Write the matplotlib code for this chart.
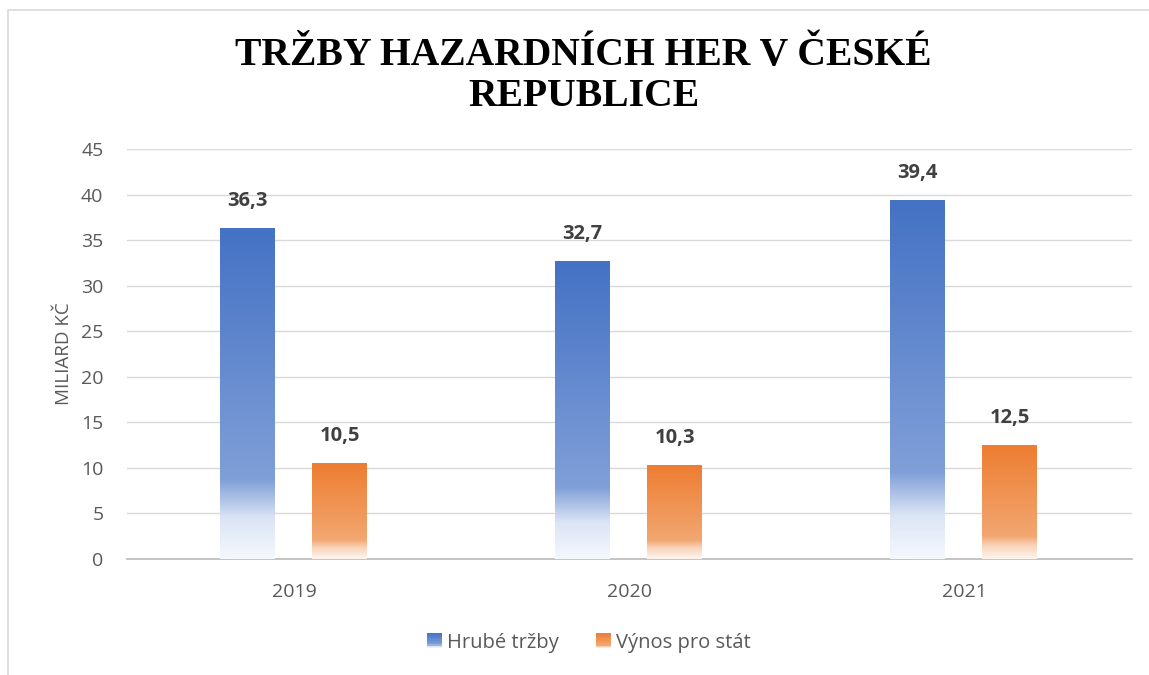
import numpy as np
import matplotlib
matplotlib.use("Agg")
import matplotlib.pyplot as plt
from matplotlib.colors import LinearSegmentedColormap
from matplotlib.patches import Rectangle
from matplotlib.legend_handler import HandlerBase

# data
years = ["2019", "2020", "2021"]
hrube_trzby = [36.3, 32.7, 39.4]
vynos_pro_stat = [10.5, 10.3, 12.5]
series_names = ["Hrubé tržby", "Výnos pro stát"]
yticks = [0, 5, 10, 15, 20, 25, 30, 35, 40, 45]

# gradient maps, bottom (0) -> top (1)
cmap_blue = LinearSegmentedColormap.from_list(
    "blue", [(0.0, "#F5F8FD"), (0.12, "#DCE5F5"), (0.24, "#809FD8"), (1.0, "#4472C4")])
cmap_orange = LinearSegmentedColormap.from_list(
    "orange", [(0.0, "#FEF6F0"), (0.12, "#F8D2B6"), (0.2, "#F2A771"), (1.0, "#ED7D31")])

font = "Open Sans"
fig = plt.figure(figsize=(11.49, 6.75), dpi=100)
fig.patches.append(Rectangle((8 / 1149, -0.1), 1.2, 1 - 10 / 675 + 0.1, transform=fig.transFigure,
                             fill=False, edgecolor="#D9D9D9", linewidth=1.2))
ax = fig.add_axes([127 / 1149, 1 - 559 / 675, (1132 - 127) / 1149, (559 - 149) / 675])

x = np.arange(len(years))
w = 0.164
grad = np.linspace(0, 1, 256).reshape(-1, 1)

def grad_bars(xpos, vals, cmap):
    bars = ax.bar(xpos, vals, w, color="none", edgecolor="none", zorder=3)
    for b in bars:
        x0, y0 = b.get_x(), b.get_y()
        im = ax.imshow(grad, cmap=cmap, origin="lower", aspect="auto", zorder=3,
                       extent=(x0, x0 + b.get_width(), y0, y0 + b.get_height()))
        im.set_clip_path(b)
    for xi, v in zip(xpos, vals):
        ax.text(xi, v + 1.9, f"{v:.1f}".replace(".", ","), ha="center", va="bottom",
                fontsize=14.5, fontweight="bold", color="#404040", family=font)
    return bars

grad_bars(x - 0.14, hrube_trzby, cmap_blue)
grad_bars(x + 0.135, vynos_pro_stat, cmap_orange)

ax.set_xlim(-0.5, 2.5)
ax.set_ylim(0, 45)
ax.set_yticks(yticks)
ax.set_xticks(x)
ax.set_xticklabels(years)
ax.grid(axis="y", color="#D9D9D9", linewidth=1, zorder=0)
ax.set_axisbelow(True)
for s in ["top", "right", "left"]:
    ax.spines[s].set_visible(False)
ax.spines["bottom"].set_color("#BFBFBF")
ax.spines["bottom"].set_linewidth(1.3)
ax.tick_params(axis="both", length=0, labelsize=14, labelcolor="#595959")
ax.tick_params(axis="x", pad=17)
ax.tick_params(axis="y", pad=17)
for lab in ax.get_xticklabels() + ax.get_yticklabels():
    lab.set_family(font)
ax.set_ylabel("MILIARD KČ", fontsize=13.5, color="#595959", family=font, labelpad=6)

fig.text(0.508, 1 - 76 / 675, "TRŽBY HAZARDNÍCH HER V ČESKÉ\nREPUBLICE", ha="center", va="center",
         fontsize=28.5, fontweight="bold", family="Liberation Serif", color="black", linespacing=1.12)

# legend with gradient swatches
class GradHandler(HandlerBase):
    def __init__(self, cmap):
        super().__init__()
        self.cmap = cmap

    def create_artists(self, legend, orig_handle, xdescent, ydescent, width, height, fontsize, trans):
        n = 12
        side = height * 1.05
        x0 = -xdescent + (width - side)
        arts = []
        for i in range(n):
            arts.append(Rectangle((x0, -ydescent + i * side / n), side, side / n,
                                  facecolor=self.cmap((i + 0.5) / n), edgecolor="none", transform=trans))
        return arts

h1 = Rectangle((0, 0), 1, 1)
h2 = Rectangle((0, 0), 1, 1)
fig.legend([h1, h2], series_names, loc="center", bbox_to_anchor=(0.512, 1 - 643 / 675), ncol=2,
           frameon=False, handler_map={h1: GradHandler(cmap_blue), h2: GradHandler(cmap_orange)},
           prop={"family": font, "size": 14.5}, labelcolor="#595959",
           handlelength=0.8, handletextpad=0.25, columnspacing=1.8)

fig.savefig("out.png", dpi=100)
